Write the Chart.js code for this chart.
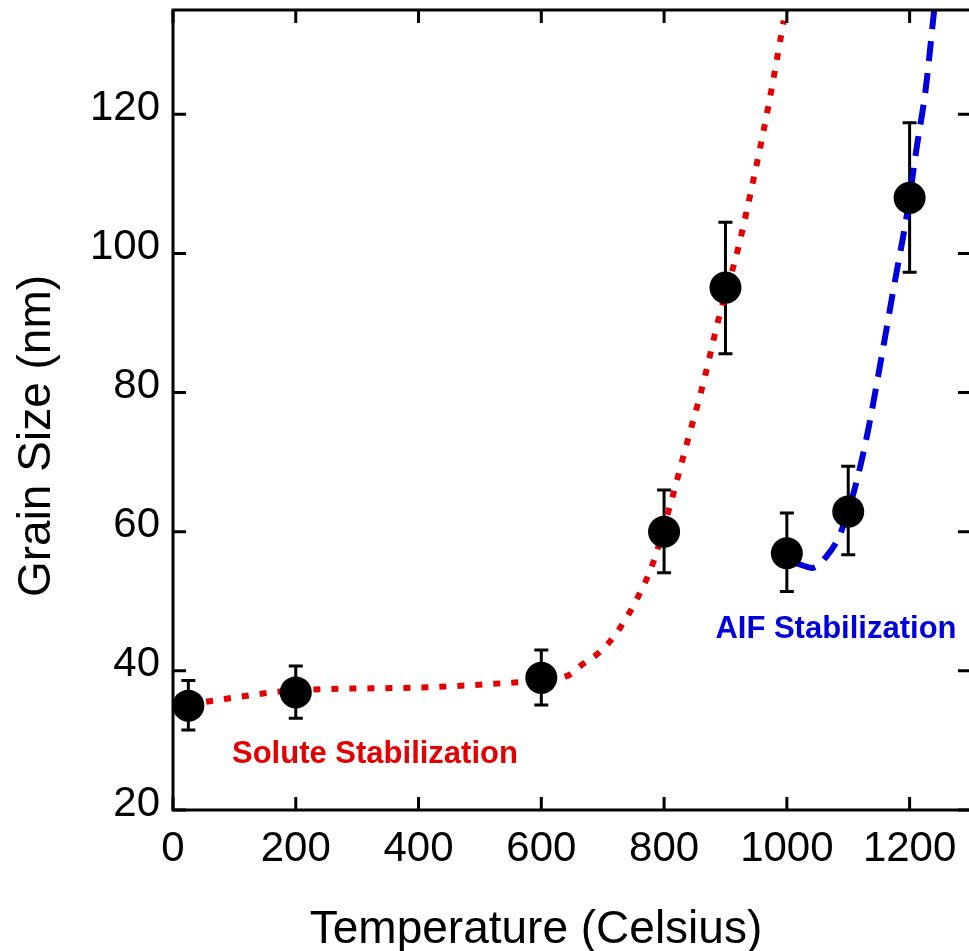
<!DOCTYPE html>
<html>
<head>
<meta charset="utf-8">
<script src="https://cdn.jsdelivr.net/npm/chart.js@4"></script>
<style>
  html, body { margin: 0; padding: 0; background: #fff; overflow: hidden; }
</style>
</head>
<body>
<canvas id="chart" width="976" height="951"></canvas>
<script>
'use strict';

// measured grain size with error bars
const temps = [25, 200, 600, 800, 900, 1000, 1100, 1200];
const grainSize = [35, 36.9, 39, 60, 95.1, 56.9, 62.9, 108];
const errLow = [31.5, 33.2, 35.1, 54.1, 85.6, 51.4, 56.7, 97.3];
const errHigh = [38.6, 40.7, 43.0, 66.0, 104.5, 62.7, 69.4, 118.8];

// solute stabilization guide curve (red dotted)
const soluteX = [25, 200, 400, 550, 640, 668, 695, 723, 755, 782, 812, 835, 864, 890, 920, 946, 970, 995];
const soluteY = [35.2, 37.2, 37.6, 38.3, 39.2, 41, 42.7, 45.5, 50.2, 55.5, 64.5, 72, 81.4, 91, 100.5, 110.8, 121.2, 133.5];

// AIF stabilization guide curve (blue dashed)
const aifX = [1015, 1042, 1064, 1086, 1110, 1131, 1152, 1175, 1196, 1212, 1226, 1240];
const aifY = [55.5, 54.8, 56.4, 59.5, 66, 74, 84, 95.5, 105.8, 115.5, 123.5, 135];

const xTicks = [0, 200, 400, 600, 800, 1000, 1200];
const yTicks = [20, 40, 60, 80, 100, 120];

const RED = '#e40000';
const BLUE = '#0000dc';
const FONT = '"Liberation Sans", Arial, sans-serif';

const notes = [
  { text: 'Solute Stabilization', x: 329, y: 26.8, color: RED },
  { text: 'AIF Stabilization', x: 1080, y: 44.75, color: BLUE }
];

const toXY = (xs, ys) => xs.map((x, i) => ({ x: x, y: ys[i] }));

const extras = {
  id: 'extras',
  beforeDatasetsDraw(chart) {
    const { ctx, scales: { x, y } } = chart;
    ctx.save();
    ctx.strokeStyle = '#000';
    ctx.lineWidth = 3;
    temps.forEach((t, i) => {
      const px = x.getPixelForValue(t);
      const top = y.getPixelForValue(errHigh[i]);
      const bot = y.getPixelForValue(errLow[i]);
      ctx.beginPath();
      ctx.moveTo(px, top); ctx.lineTo(px, bot);
      ctx.moveTo(px - 7, top); ctx.lineTo(px + 7, top);
      ctx.moveTo(px - 7, bot); ctx.lineTo(px + 7, bot);
      ctx.stroke();
    });
    ctx.restore();
  },
  afterDraw(chart) {
    const { ctx, chartArea: a, scales: { x, y } } = chart;
    ctx.save();
    ctx.strokeStyle = '#000';
    ctx.lineWidth = 3;
    ctx.strokeRect(a.left, a.top, a.right - a.left, a.bottom - a.top);
    ctx.beginPath();
    xTicks.forEach((v) => {
      const px = x.getPixelForValue(v);
      ctx.moveTo(px, a.bottom); ctx.lineTo(px, a.bottom - 13);
      ctx.moveTo(px, a.top); ctx.lineTo(px, a.top + 13);
    });
    yTicks.forEach((v) => {
      const py = y.getPixelForValue(v);
      ctx.moveTo(a.left, py); ctx.lineTo(a.left + 13, py);
      ctx.moveTo(a.right, py); ctx.lineTo(a.right - 13, py);
    });
    ctx.stroke();

    ctx.font = 'bold 31px ' + FONT;
    ctx.textAlign = 'center';
    ctx.textBaseline = 'alphabetic';
    notes.forEach((n) => {
      ctx.fillStyle = n.color;
      ctx.fillText(n.text, x.getPixelForValue(n.x), y.getPixelForValue(n.y));
    });

    ctx.fillStyle = '#000';
    ctx.font = '46px ' + FONT;
    ctx.fillText('Temperature (Celsius)', 536, 943);
    ctx.translate(50, 436);
    ctx.rotate(-Math.PI / 2);
    ctx.fillText('Grain Size (nm)', 0, 0);
    ctx.restore();
  }
};

const noPad = (s) => { s.paddingLeft = 0; s.paddingRight = 0; s.paddingTop = 0; s.paddingBottom = 0; };

new Chart(document.getElementById('chart'), {
  type: 'scatter',
  data: {
    datasets: [
      {
        data: toXY(temps, grainSize),
        pointRadius: 16,
        pointHoverRadius: 16,
        pointBackgroundColor: '#000',
        pointBorderColor: '#000',
        pointBorderWidth: 0,
        showLine: false
      },
      {
        data: toXY(soluteX, soluteY),
        showLine: true,
        pointRadius: 0,
        borderColor: RED,
        borderWidth: 6,
        borderDash: [7, 11],
        cubicInterpolationMode: 'monotone'
      },
      {
        data: toXY(aifX, aifY),
        showLine: true,
        pointRadius: 0,
        borderColor: BLUE,
        borderWidth: 6,
        borderDash: [20, 12],
        cubicInterpolationMode: 'monotone'
      }
    ]
  },
  options: {
    responsive: false,
    animation: false,
    layout: { autoPadding: false, padding: { top: 10, right: 5, left: 0, bottom: 0 } },
    plugins: { legend: { display: false }, tooltip: { enabled: false } },
    scales: {
      x: {
        type: 'linear',
        min: 0,
        max: 1300,
        grid: { display: false, drawTicks: false, tickLength: 0 },
        border: { display: false },
        ticks: {
          color: '#000',
          font: { family: FONT, size: 42 },
          padding: 14,
          maxRotation: 0,
          autoSkip: false,
          callback: (v) => String(v)
        },
        afterBuildTicks: (s) => { s.ticks = xTicks.map((v) => ({ value: v })); },
        afterFit: (s) => { s.height = 141; noPad(s); }
      },
      y: {
        type: 'linear',
        min: 20,
        max: 135,
        grid: { display: false, drawTicks: false, tickLength: 0 },
        border: { display: false },
        ticks: {
          color: '#000',
          font: { family: FONT, size: 42 },
          padding: 13,
          labelOffset: -6,
          autoSkip: false,
          callback: (v) => String(v)
        },
        afterBuildTicks: (s) => { s.ticks = yTicks.map((v) => ({ value: v })); },
        afterFit: (s) => { s.width = 173; noPad(s); }
      }
    }
  },
  plugins: [extras]
});
</script>
</body>
</html>
